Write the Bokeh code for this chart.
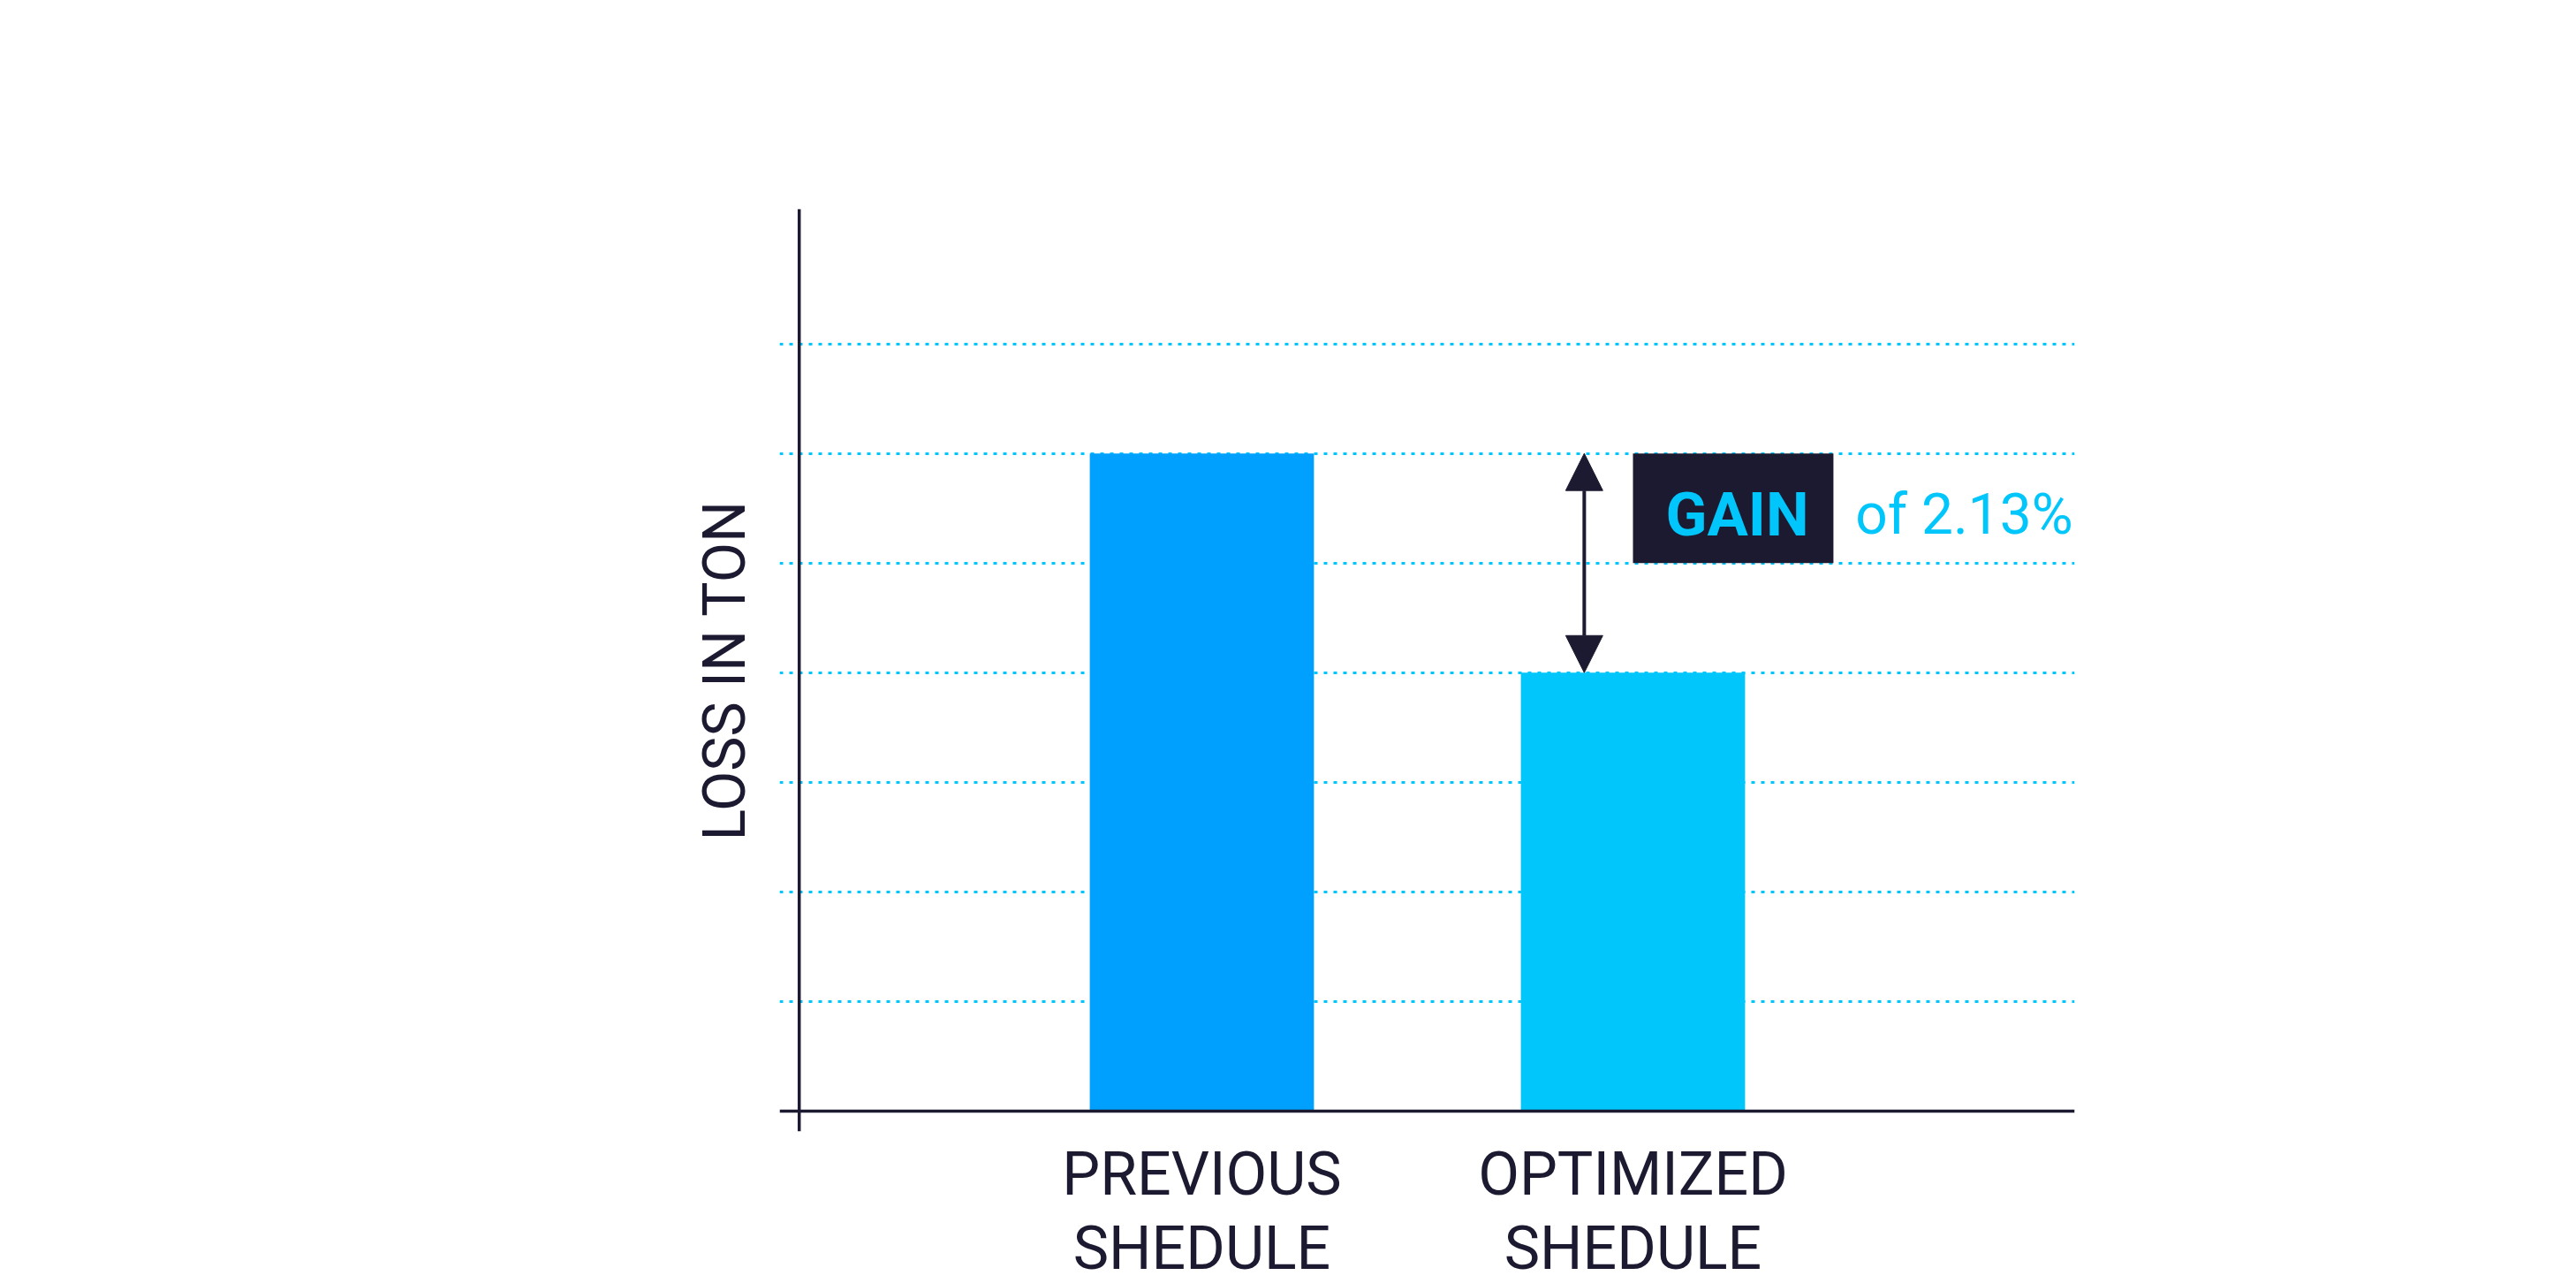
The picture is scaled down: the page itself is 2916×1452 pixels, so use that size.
from bokeh.plotting import figure
from bokeh.models import Range1d, FixedTicker, Span, Arrow, NormalHead, BoxAnnotation, Label
from bokeh.embed import file_html
from bokeh.resources import INLINE

# ---- data ----
categories = ["PREVIOUS\nSHEDULE", "OPTIMIZED\nSHEDULE"]
loss_values = [6, 4]
bar_colors = ["#00a1fe", "#00c6fb"]
grid_levels = [1, 2, 3, 4, 5, 6, 7]
gain_text = "GAIN"
gain_value_text = "of 2.13%"
y_label = "LOSS IN TON"

NAVY = "#1b1a31"
CYAN = "#00c6fb"
FONT = "Roboto"

x_pos = list(range(len(categories)))

p = figure(
    x_range=Range1d(-0.9795, 2.0246),
    y_range=Range1d(-0.185, 8.23),
    frame_width=1466, frame_height=1044,
    min_border_left=882, min_border_right=568, min_border_top=236, min_border_bottom=160,
    output_backend="svg", toolbar_location=None, tools="",
)
p.outline_line_color = None
p.background_fill_color = "white"
p.border_fill_color = "white"

p.vbar(x=x_pos, top=loss_values, width=0.52, fill_color=bar_colors, line_color=None)

# grid
p.xgrid.visible = False
p.ygrid.ticker = FixedTicker(ticks=grid_levels)
p.ygrid.grid_line_color = CYAN
p.ygrid.grid_line_width = 3
p.ygrid.grid_line_dash = "4 7"

# y axis
p.yaxis.ticker = FixedTicker(ticks=[])
p.yaxis.axis_line_color = None
p.yaxis.major_tick_line_color = None
p.yaxis.minor_tick_line_color = None
p.yaxis.major_tick_out = 0
p.yaxis.major_label_standoff = 0
p.yaxis.axis_label = y_label
p.yaxis.axis_label_text_font = FONT
p.yaxis.axis_label_text_font_style = "normal"
p.yaxis.axis_label_text_font_size = "66px"
p.yaxis.axis_label_text_color = NAVY
p.yaxis.axis_label_standoff = 24

# x axis
p.xaxis.ticker = FixedTicker(ticks=x_pos)
p.xaxis.major_label_overrides = {i: c for i, c in zip(x_pos, categories)}
p.xaxis.axis_line_color = None
p.xaxis.major_tick_line_color = None
p.xaxis.minor_tick_line_color = None
p.xaxis.major_tick_out = 0
p.xaxis.major_label_standoff = 8
p.xaxis.major_label_text_font = FONT
p.xaxis.major_label_text_font_size = "68px"
p.xaxis.major_label_text_line_height = 1.05
p.xaxis.major_label_text_color = NAVY

# axis lines
p.add_layout(Span(location=0, dimension="width", line_color=NAVY, line_width=3.5))
p.add_layout(Span(location=-0.934, dimension="height", line_color=NAVY, line_width=3.5))

# gain annotation
p.add_layout(BoxAnnotation(left=1.0, right=1.465, bottom=5, top=6,
                           fill_color=NAVY, fill_alpha=1, line_color=None))
p.add_layout(Arrow(x_start=0.887, y_start=loss_values[1], x_end=0.887, y_end=loss_values[0],
                   line_color=NAVY, line_width=4,
                   start=NormalHead(size=42, fill_color=NAVY, line_color=NAVY),
                   end=NormalHead(size=42, fill_color=NAVY, line_color=NAVY)))
p.add_layout(Label(x=1.242, y=5.44, text=gain_text, text_align="center", text_baseline="alphabetic",
                   text_font=FONT, text_font_style="bold", text_font_size="69px", text_color=CYAN))
p.add_layout(Label(x=1.516, y=5.44, text=gain_value_text, text_align="left", text_baseline="alphabetic",
                   text_font=FONT, text_font_size="64px", text_color=CYAN))

open("out.html", "w").write(file_html(p, INLINE))
